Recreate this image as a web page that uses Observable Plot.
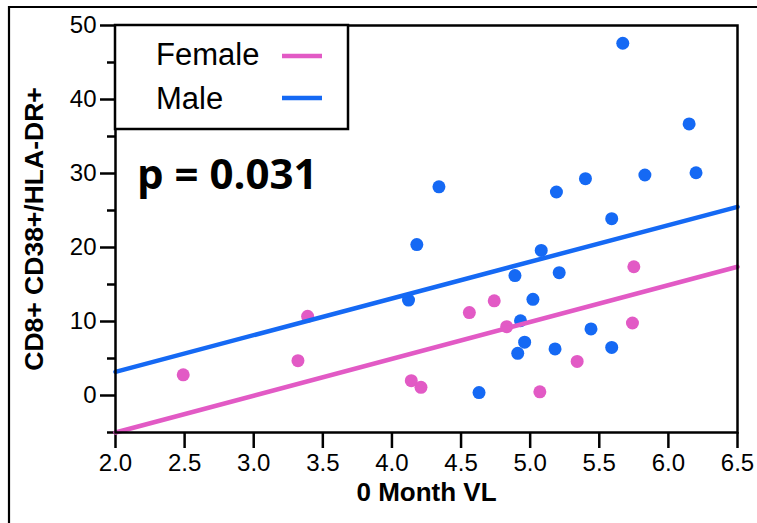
<!DOCTYPE html>
<html><head><meta charset="utf-8">
<script src="https://cdn.jsdelivr.net/npm/d3@7"></script>
<script src="https://cdn.jsdelivr.net/npm/@observablehq/plot@0.6"></script>
<style>
body{margin:0;background:#fff;}
#chart{position:relative;width:757px;height:523px;}
</style>
</head><body><div id="chart"></div>
<script>
const groups = ["Female", "Male"];
const groupColors = ["#E25AC5", "#1569F4"];

const maleVL  = [5.67, 6.15, 4.34, 5.19, 5.40, 5.83, 6.20, 5.59, 4.18, 5.08, 4.89, 5.21, 4.12, 5.02, 4.93, 5.44, 4.96, 4.91, 5.18, 5.59, 4.63];
const maleAct = [47.6, 36.7, 28.2, 27.5, 29.3, 29.8, 30.1, 23.9, 20.4, 19.6, 16.2, 16.6, 12.9, 13.0, 10.1, 9.0, 7.2, 5.7, 6.3, 6.5, 0.4];

const femaleVL  = [2.49, 3.32, 3.39, 5.75, 4.74, 4.56, 4.83, 5.74, 5.34, 4.14, 4.21, 5.07];
const femaleAct = [2.8, 4.7, 10.7, 17.4, 12.8, 11.2, 9.3, 9.8, 4.6, 2.0, 1.1, 0.5];

const fitX = [2.0, 6.5];
const femaleFitY = [-5.0, 17.4];
const maleFitY = [3.2, 25.5];

const xTicks = [2.0, 2.5, 3.0, 3.5, 4.0, 4.5, 5.0, 5.5, 6.0, 6.5];
const yTicks = [0, 10, 20, 30, 40, 50];
const yMinorTicks = [-5, 5, 15, 25, 35, 45];

const xLabel = "0 Month VL";
const yLabel = "CD8+ CD38+/HLA-DR+";
const pText = "p = 0.031";

const male = maleVL.map((v, i) => ({vl: v, act: maleAct[i]}));
const female = femaleVL.map((v, i) => ({vl: v, act: femaleAct[i]}));
const maleFit = fitX.map((v, i) => ({vl: v, act: maleFitY[i]}));
const femaleFit = fitX.map((v, i) => ({vl: v, act: femaleFitY[i]}));

const font = "'Liberation Sans', Arial, Helvetica, sans-serif";

const chart = Plot.plot({
  width: 757,
  height: 523,
  marginLeft: 115,
  marginRight: 20,
  marginTop: 25,
  marginBottom: 91,
  style: {fontFamily: font, fontSize: "24px", color: "black", background: "white"},
  x: {domain: [2.0, 6.5]},
  y: {domain: [-5, 50]},
  marks: [
    Plot.axisY({ticks: yMinorTicks, tickSize: 8, tickFormat: () => "", strokeWidth: 2.5, label: null}),
    Plot.axisY({ticks: yTicks, tickSize: 15, tickPadding: 4, fontSize: 24, strokeWidth: 2.5, label: null}),
    Plot.axisX({ticks: xTicks, tickSize: 16, tickPadding: 5, fontSize: 24, strokeWidth: 2.5, tickFormat: d => d.toFixed(1), label: null}),
    Plot.dot(male, {x: "vl", y: "act", r: 6.5, fill: groupColors[1], stroke: null}),
    Plot.dot(female, {x: "vl", y: "act", r: 6.5, fill: groupColors[0], stroke: null}),
    Plot.line(maleFit, {x: "vl", y: "act", stroke: groupColors[1], strokeWidth: 4.5}),
    Plot.line(femaleFit, {x: "vl", y: "act", stroke: groupColors[0], strokeWidth: 4.5}),
    Plot.frame({stroke: "black", strokeWidth: 2.5}),
    Plot.text([yLabel], {text: d => d, frameAnchor: "left", dx: -81, rotate: -90, textAnchor: "middle", lineAnchor: "middle", fontSize: 26.5, fontWeight: "bold"}),
    Plot.text([xLabel], {text: d => d, frameAnchor: "bottom", dy: 60, textAnchor: "middle", lineAnchor: "middle", fontSize: 26, fontWeight: "bold"})
  ]
});
document.getElementById("chart").appendChild(chart);

const svg = d3.select(chart);
// outer figure border (top and left edges)
svg.append("path").attr("d", "M9,523V7H757").attr("fill", "none").attr("stroke", "black").attr("stroke-width", 2.2);

// legend box
const lg = svg.append("g").attr("text-anchor", "start");
lg.append("rect").attr("x", 115).attr("y", 25).attr("width", 233).attr("height", 104)
  .attr("fill", "white").attr("stroke", "black").attr("stroke-width", 2.5);
groups.forEach((g, i) => {
  lg.append("text").attr("x", 156).attr("y", 65 + i * 44).text(g)
    .attr("text-anchor", "start")
    .attr("font-family", font).attr("font-size", 31).attr("fill", "black");
  lg.append("line").attr("x1", 282).attr("x2", 322).attr("y1", 56 + i * 42).attr("y2", 56 + i * 42)
    .attr("stroke", groupColors[i]).attr("stroke-width", 4.5);
});

// p-value annotation
svg.append("text").attr("x", 137).attr("y", 189).text(pText)
  .attr("text-anchor", "start")
  .attr("font-family", "'Open Sans', sans-serif").attr("font-weight", "bold").attr("font-size", 42).attr("fill", "black");
</script>
</body></html>
